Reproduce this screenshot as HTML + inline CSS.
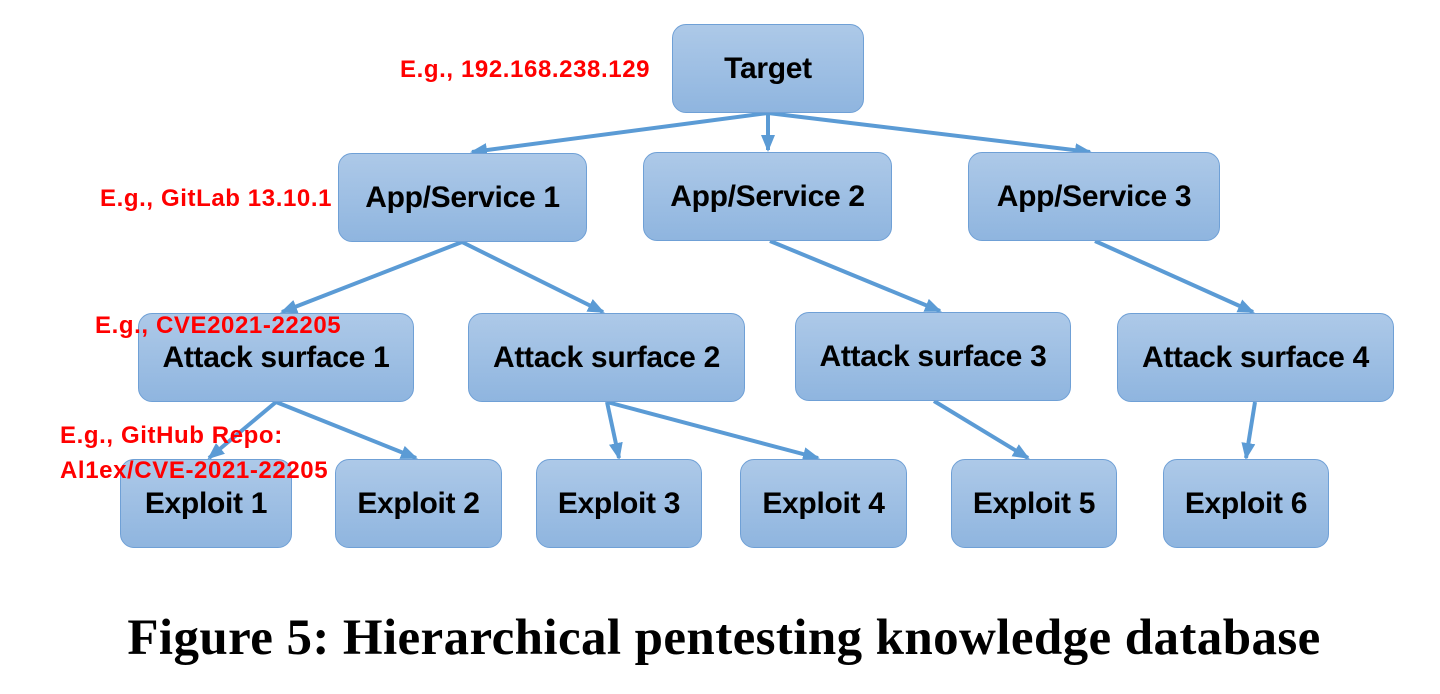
<!DOCTYPE html>
<html><head><meta charset="utf-8"><style>
body{margin:0;background:#fff;width:1440px;height:694px;overflow:hidden;position:relative;font-family:"Liberation Sans",sans-serif}
.b{position:absolute;box-sizing:border-box;border:1.5px solid #6fa0d6;border-radius:14px;background:linear-gradient(#adc9e8,#8fb5df);display:flex;align-items:center;justify-content:center;font-weight:bold;font-size:30px;color:#000;letter-spacing:-0.3px}
.r{position:absolute;color:#f00;font-weight:bold;font-size:24px;letter-spacing:0.6px;white-space:nowrap;line-height:35px}
.cap{position:absolute;left:4px;width:1440px;text-align:center;top:609px;font-family:"Liberation Serif",serif;font-weight:bold;font-size:51px;letter-spacing:0.4px}
</style></head><body>
<svg width="1440" height="694" style="position:absolute;left:0;top:0">
<defs><marker id="a" markerWidth="18" markerHeight="16" refX="15" refY="8" orient="auto" markerUnits="userSpaceOnUse"><path d="M0,1 L17,8 L0,15 z" fill="#5b9bd5"/></marker></defs>
<g stroke="#5b9bd5" stroke-width="4" fill="none" marker-end="url(#a)">
<line x1="768" y1="113" x2="472" y2="152"/>
<line x1="768" y1="113" x2="768" y2="150"/>
<line x1="768" y1="113" x2="1090" y2="152"/>
<line x1="462" y1="242" x2="282" y2="312"/>
<line x1="462" y1="242" x2="603" y2="312"/>
<line x1="770" y1="241" x2="940" y2="311"/>
<line x1="1095" y1="241" x2="1253" y2="312"/>
<line x1="276" y1="402" x2="209" y2="458"/>
<line x1="276" y1="402" x2="416" y2="458"/>
<line x1="607" y1="402" x2="619" y2="458"/>
<line x1="607" y1="402" x2="818" y2="458"/>
<line x1="934" y1="401" x2="1028" y2="458"/>
<line x1="1255" y1="402" x2="1246" y2="458"/>
</g></svg>
<div class="b" style="left:672px;top:24px;width:192px;height:89px">Target</div>
<div class="b" style="left:338px;top:153px;width:249px;height:89px">App/Service 1</div>
<div class="b" style="left:643px;top:152px;width:249px;height:89px">App/Service 2</div>
<div class="b" style="left:968px;top:152px;width:252px;height:89px">App/Service 3</div>
<div class="b" style="left:138px;top:313px;width:276px;height:89px">Attack surface 1</div>
<div class="b" style="left:468px;top:313px;width:277px;height:89px">Attack surface 2</div>
<div class="b" style="left:795px;top:312px;width:276px;height:89px">Attack surface 3</div>
<div class="b" style="left:1117px;top:313px;width:277px;height:89px">Attack surface 4</div>
<div class="b" style="left:120px;top:459px;width:172px;height:89px">Exploit 1</div>
<div class="b" style="left:335px;top:459px;width:167px;height:89px">Exploit 2</div>
<div class="b" style="left:536px;top:459px;width:166px;height:89px">Exploit 3</div>
<div class="b" style="left:740px;top:459px;width:167px;height:89px">Exploit 4</div>
<div class="b" style="left:951px;top:459px;width:166px;height:89px">Exploit 5</div>
<div class="b" style="left:1163px;top:459px;width:166px;height:89px">Exploit 6</div>
<div class="r" style="left:400px;top:52px">E.g., 192.168.238.129</div>
<div class="r" style="left:100px;top:181px">E.g., GitLab 13.10.1</div>
<div class="r" style="left:95px;top:308px">E.g., CVE2021-22205</div>
<div class="r" style="left:60px;top:418px">E.g., GitHub Repo:<br>Al1ex/CVE-2021-22205</div>
<div class="cap">Figure 5: Hierarchical pentesting knowledge database</div>
</body></html>
